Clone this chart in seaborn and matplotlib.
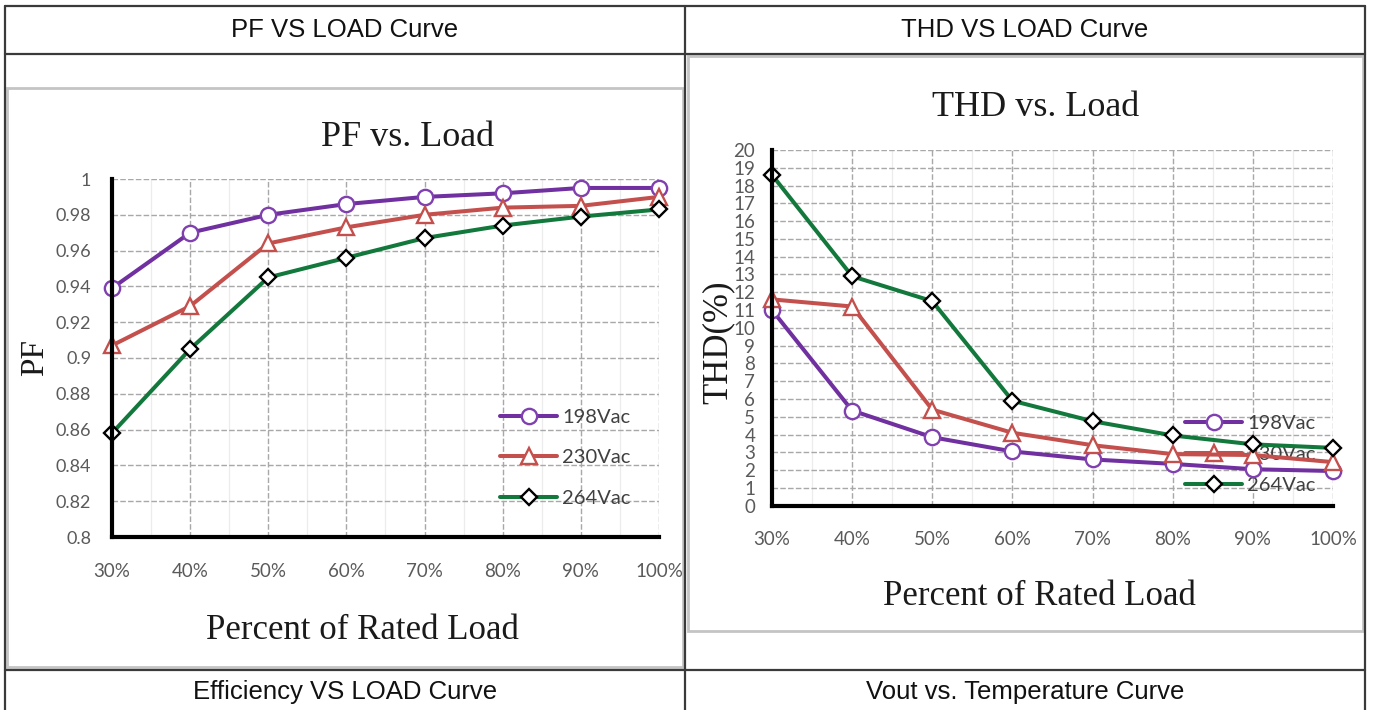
# curvas PF e THD vs carga (tabela com dois graficos)

import numpy as np
import pandas as pd
import seaborn as sns
import matplotlib.pyplot as plt
from matplotlib.lines import Line2D
from matplotlib.patches import Rectangle
from matplotlib.ticker import FuncFormatter, MultipleLocator

# dados
carga = [30, 40, 50, 60, 70, 80, 90, 100]
tensoes = ['198Vac', '230Vac', '264Vac']

pf_198 = [0.939, 0.970, 0.980, 0.986, 0.990, 0.992, 0.995, 0.995]
pf_230 = [0.907, 0.929, 0.964, 0.973, 0.980, 0.984, 0.985, 0.990]
pf_264 = [0.858, 0.905, 0.945, 0.956, 0.967, 0.974, 0.979, 0.983]

thd_198 = [11.0, 5.35, 3.85, 3.05, 2.6, 2.35, 2.05, 1.95]
thd_230 = [11.6, 11.2, 5.4, 4.1, 3.4, 2.9, 2.85, 2.45]
thd_264 = [18.6, 12.9, 11.5, 5.9, 4.75, 3.95, 3.45, 3.25]

pf_ticks = [0.8, 0.82, 0.84, 0.86, 0.88, 0.9, 0.92, 0.94, 0.96, 0.98, 1.0]
thd_ticks = list(range(0, 21))

cabecalhos = ['PF VS LOAD Curve', 'THD VS LOAD Curve']
rodape = ['Efficiency VS LOAD Curve', 'Vout vs. Temperature Curve']

cores = ['#7030A0', '#C4504E', '#13783C']
bordas = ['#8040B0', '#C4504E', '#000000']
marcadores = ['o', '^', 'D']
tam_marc = [11, 11, 8]

W, H = 1373, 710

def fx(px):
    return px / W

def fy(py):
    return 1 - py / H

sns.set_style('white')
plt.rcParams['font.family'] = ['Lato', 'DejaVu Sans']

fig = plt.figure(figsize=(W / 100, H / 100), dpi=100)

# tabela
cor_tab = '#3a3a3a'
for (x0, y0, x1, y1) in [(5, 6, 1365, 6), (5, 54, 1365, 54), (5, 670, 1365, 670),
                         (5, 6, 5, 710), (1365, 6, 1365, 710), (685, 6, 685, 710)]:
    fig.add_artist(Line2D([fx(x0), fx(x1)], [fy(y0), fy(y1)], color=cor_tab, lw=1.6,
                          transform=fig.transFigure))
for txt, xc in zip(cabecalhos, [345, 1025]):
    fig.text(fx(xc), fy(30), txt, ha='center', va='center', fontsize=18.5,
             family='Liberation Sans', color='#111111')
for txt, xc in zip(rodape, [345, 1025]):
    fig.text(fx(xc), fy(692), txt, ha='center', va='center', fontsize=18.5,
             family='Liberation Sans', color='#111111')

# molduras das imagens
fig.add_artist(Rectangle((fx(7), fy(667)), (683 - 7) / W, (667 - 88) / H, fill=False,
                         ec='#c4c4c4', lw=2, transform=fig.transFigure))
fig.add_artist(Rectangle((fx(688), fy(631)), (1363 - 688) / W, (631 - 56) / H, fill=False,
                         ec='#c4c4c4', lw=2, transform=fig.transFigure))

ax_pf = fig.add_axes([fx(112), fy(537), (659 - 112) / W, (537 - 179) / H])
ax_thd = fig.add_axes([fx(772), fy(505.7), (1333 - 772) / W, (505.7 - 150) / H])


def desenha(ax, dados):
    for nome, vals, cor, borda, mk, ms in zip(tensoes, dados, cores, bordas, marcadores, tam_marc):
        sns.lineplot(x=carga, y=vals, ax=ax, color=cor, linewidth=2.9, marker=mk,
                     markersize=ms, markerfacecolor='white', markeredgecolor=borda,
                     markeredgewidth=1.7, label=nome, clip_on=False, zorder=3)
    ax.set_xlim(30, 100)
    ax.xaxis.set_major_locator(MultipleLocator(10))
    ax.xaxis.set_minor_locator(MultipleLocator(5))
    ax.xaxis.set_major_formatter(FuncFormatter(lambda v, p: f'{v:.0f}%'))
    ax.grid(which='major', ls=(0, (4, 1.6)), color='#a8a8a8', lw=1)
    ax.grid(which='minor', axis='x', ls='-', color='#ececec', lw=0.9)
    for s in ['top', 'right']:
        ax.spines[s].set_visible(False)
    for s in ['left', 'bottom']:
        ax.spines[s].set_color('black')
        ax.spines[s].set_linewidth(3)
        ax.spines[s].set_zorder(4)
    ax.tick_params(which='both', length=0, labelcolor='#5a5a5a')


# PF vs Load
desenha(ax_pf, [pf_198, pf_230, pf_264])
ax_pf.set_ylim(0.8, 1.0)
ax_pf.set_yticks(pf_ticks)
ax_pf.yaxis.set_major_formatter(FuncFormatter(lambda v, p: f'{round(v, 2):g}'))
ax_pf.tick_params(axis='y', labelsize=13, pad=15)
ax_pf.tick_params(axis='x', labelsize=13.5, pad=19)
ax_pf.set_xlabel('Percent of Rated Load', family='Liberation Serif', fontsize=25,
                 color='#1a1a1a', va='center')
ax_pf.xaxis.set_label_coords(0.457, -0.26)
ax_pf.set_ylabel('PF', family='Liberation Serif', fontsize=24, color='#1a1a1a', va='center')
ax_pf.yaxis.set_label_coords(-0.141, 0.5)
ax_pf.set_title('PF vs. Load', family='Liberation Serif', fontsize=26, color='#1a1a1a',
                y=1.092, pad=0)
ax_pf.title.set_x(0.541)
leg = ax_pf.legend(loc='upper left', bbox_to_anchor=(fx(500), fy(409)),
                   bbox_transform=fig.transFigure, frameon=False, borderpad=0,
                   borderaxespad=0, fontsize=14.5, labelspacing=1.15, handlelength=2.85,
                   handletextpad=0.25)
for t in leg.get_texts():
    t.set_color('#404040')

# THD vs Load
desenha(ax_thd, [thd_198, thd_230, thd_264])
ax_thd.set_ylim(0, 20)
ax_thd.set_yticks(thd_ticks)
ax_thd.tick_params(axis='y', labelsize=13.5, pad=12)
ax_thd.tick_params(axis='x', labelsize=13.5, pad=18)
ax_thd.set_xlabel('Percent of Rated Load', family='Liberation Serif', fontsize=25,
                  color='#1a1a1a', va='center')
ax_thd.xaxis.set_label_coords(0.476, -0.255)
ax_thd.set_ylabel('THD(%)', family='Liberation Serif', fontsize=25, color='#1a1a1a', va='center')
ax_thd.yaxis.set_label_coords(-0.096, 0.46)
ax_thd.set_title('THD vs. Load', family='Liberation Serif', fontsize=26, color='#1a1a1a',
                 y=1.096, pad=0)
ax_thd.title.set_x(0.47)
leg2 = ax_thd.legend(loc='upper left', bbox_to_anchor=(fx(1185), fy(415)),
                     bbox_transform=fig.transFigure, frameon=False, borderpad=0,
                     borderaxespad=0, fontsize=14.5, labelspacing=0.7, handlelength=2.85,
                     handletextpad=0.25)
leg2.set_zorder(1)
for t in leg2.get_texts():
    t.set_color('#404040')

fig.savefig('out.png', dpi=100)
